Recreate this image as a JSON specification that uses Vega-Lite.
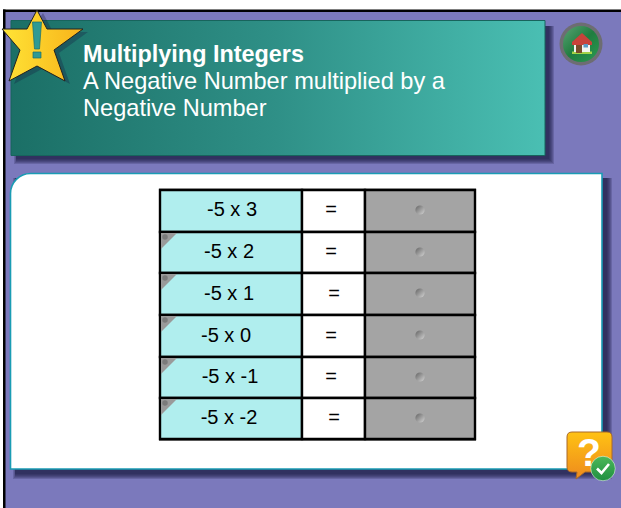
{
"$schema":"https://vega.github.io/schema/vega-lite/v6.json",
"width":621,"height":508,"autosize":{"type":"fit","contains":"padding"},"padding":0,
"background":"#ffffff","config":{"view":{"stroke":null}},
"datasets":{
"frame":[{"x":4,"x2":621,"y":11,"y2":508}],
"borderTop":[{"x":3,"x2":621,"y":9.5,"y2":12}],
"borderLeft":[{"x":3,"x2":5.5,"y":9.5,"y2":508}],
"bannerShadow":[{"x":14,"x2":554,"y":26,"y2":164},{"x":15,"x2":553,"y":26,"y2":163},{"x":16,"x2":552,"y":26,"y2":162},{"x":16,"x2":551,"y":26,"y2":161},{"x":16,"x2":550,"y":26,"y2":160},{"x":16,"x2":549,"y":26,"y2":159}],
"banner":[{"x":11,"x2":545,"y":20.5,"y2":155.5}],
"panelShadow":[{"x":13,"x2":612,"y":178,"y2":479},{"x":14,"x2":611,"y":178,"y2":478},{"x":15,"x2":610,"y":178,"y2":477},{"x":15,"x2":609,"y":178,"y2":476},{"x":15,"x2":608,"y":178,"y2":475},{"x":15,"x2":607,"y":178,"y2":474}],
"panel":[{"x":10.5,"x2":602,"y":173.5,"y2":469}],
"tableEdge":[{"x":159,"x2":476,"y":188.5,"y2":441}],
"cellsA":[{"row":1,"x":160,"x2":302,"y":190,"y2":232},{"row":2,"x":160,"x2":302,"y":232,"y2":273},{"row":3,"x":160,"x2":302,"y":273,"y2":315},{"row":4,"x":160,"x2":302,"y":315,"y2":357},{"row":5,"x":160,"x2":302,"y":357,"y2":398},{"row":6,"x":160,"x2":302,"y":398,"y2":439}],
"cellsB":[{"row":1,"x":302,"x2":365,"y":190,"y2":232},{"row":2,"x":302,"x2":365,"y":232,"y2":273},{"row":3,"x":302,"x2":365,"y":273,"y2":315},{"row":4,"x":302,"x2":365,"y":315,"y2":357},{"row":5,"x":302,"x2":365,"y":357,"y2":398},{"row":6,"x":302,"x2":365,"y":398,"y2":439}],
"cellsC":[{"row":1,"x":365,"x2":475,"y":190,"y2":232},{"row":2,"x":365,"x2":475,"y":232,"y2":273},{"row":3,"x":365,"x2":475,"y":273,"y2":315},{"row":4,"x":365,"x2":475,"y":315,"y2":357},{"row":5,"x":365,"x2":475,"y":357,"y2":398},{"row":6,"x":365,"x2":475,"y":398,"y2":439}],
"corners":[{"x":161,"y":233},{"x":161,"y":274},{"x":161,"y":316},{"x":161,"y":358},{"x":161,"y":399}],
"cornerDots":[{"x":165,"y":237},{"x":165,"y":278},{"x":165,"y":320},{"x":165,"y":362},{"x":165,"y":403}],
"dots":[{"x":420,"y":210},{"x":420,"y":252},{"x":420,"y":293},{"x":420,"y":335},{"x":420,"y":377},{"x":420,"y":418}],
"exprs":[{"label":"-5 x 3","x":232,"y":216},{"label":"-5 x 2","x":229,"y":258},{"label":"-5 x 1","x":229,"y":300},{"label":"-5 x 0","x":226,"y":342},{"label":"-5 x -1","x":230,"y":383},{"label":"-5 x -2","x":229,"y":424}],
"equals":[{"label":"=","x":331,"y":216},{"label":"=","x":331,"y":258},{"label":"=","x":334,"y":300},{"label":"=","x":331,"y":342},{"label":"=","x":331,"y":383},{"label":"=","x":334,"y":424}],
"title":[{"label":"Multiplying Integers","x":83,"y":62}],
"subtitle":[{"label":"A Negative Number multiplied by a","x":83,"y":89},{"label":"Negative Number","x":83,"y":116}],
"anchor":[{"x":0,"y":0}],
"homeOuter":[{"x":581,"y":44}],
"bubbleQ":[{"label":"?","x":589,"y":466}],
"check":[{"x":603,"y":468.5}]
},
"encoding":{
"x":{"field":"x","type":"quantitative","scale":{"domain":[0,621],"nice":false,"zero":false},"axis":null},
"y":{"field":"y","type":"quantitative","scale":{"domain":[0,508],"nice":false,"zero":false,"reverse":true},"axis":null}
},
"layer":[
{"data":{"name":"frame"},"mark":{"type":"rect","fill":"#7b79bc"},"encoding":{"x2":{"field":"x2"},"y2":{"field":"y2"}}},
{"data":{"name":"borderTop"},"mark":{"type":"rect","fill":"#000000"},"encoding":{"x2":{"field":"x2"},"y2":{"field":"y2"}}},
{"data":{"name":"borderLeft"},"mark":{"type":"rect","fill":"#000000"},"encoding":{"x2":{"field":"x2"},"y2":{"field":"y2"}}},
{"data":{"name":"bannerShadow"},"mark":{"type":"rect","fill":"#17173f","opacity":0.2},"encoding":{"x2":{"field":"x2"},"y2":{"field":"y2"}}},
{"data":{"name":"banner"},"mark":{"type":"rect","stroke":"#17645c","strokeWidth":1,"fill":{"gradient":"linear","x1":0,"y1":0.5,"x2":1,"y2":0.5,"stops":[{"offset":0,"color":"#1b6f66"},{"offset":0.5,"color":"#2f9087"},{"offset":1,"color":"#4abfb3"}]}},"encoding":{"x2":{"field":"x2"},"y2":{"field":"y2"}}},
{"data":{"name":"anchor"},"mark":{"type":"point","filled":true,"opacity":0.3,"size":4,"fill":"#17173f","shape":"M43 13 L53 32 L88 32 L59 53 L70 84 L42 69 L14 84 L26 53 L7 32 L30 32 Z"}},
{"data":{"name":"anchor"},"mark":{"type":"point","filled":true,"opacity":1,"size":4,"stroke":"#222222","strokeWidth":1,"fill":{"gradient":"linear","x1":0,"y1":0.5,"x2":1,"y2":0.5,"stops":[{"offset":0,"color":"#ffe436"},{"offset":1,"color":"#f8b31a"}]},"shape":"M37 10 L47 29 L83 29 L54 50 L65 81 L37 66 L9 81 L20 50 L2 29 L27 29 Z"}},
{"data":{"name":"anchor"},"mark":{"type":"point","filled":true,"opacity":1,"size":4,"stroke":"#1d6e6a","strokeWidth":0.7,"fill":"#2f9a94","shape":"M32.5 22 L41.5 22 L39.5 49 L34.5 49 Z M33 52 L41 52 L41 58 L33 58 Z"}},
{"data":{"name":"title"},"mark":{"type":"text","align":"left","baseline":"alphabetic","font":"Liberation Sans","fontWeight":"bold","fontSize":23.4,"fill":"#ffffff"},"encoding":{"text":{"field":"label"}}},
{"data":{"name":"subtitle"},"mark":{"type":"text","align":"left","baseline":"alphabetic","font":"Liberation Sans","fontSize":23.6,"fill":"#ffffff"},"encoding":{"text":{"field":"label"}}},
{"data":{"name":"homeOuter"},"mark":{"type":"point","filled":true,"opacity":1,"shape":"circle","size":1849,"fill":"#6d6d72"}},
{"data":{"name":"homeOuter"},"mark":{"type":"point","filled":true,"opacity":1,"shape":"circle","size":1296,"fill":{"gradient":"linear","x1":0,"y1":0,"x2":1,"y2":1,"stops":[{"offset":0,"color":"#5aa274"},{"offset":0.5,"color":"#1f7d3f"},{"offset":1,"color":"#2b9a52"}]}}},
{"data":{"name":"anchor"},"mark":{"type":"point","filled":true,"opacity":1,"size":4,"fill":"#a4d248","shape":"M572 51.5 L592 51.5 L592 54 L572 54 Z"}},
{"data":{"name":"anchor"},"mark":{"type":"point","filled":true,"opacity":1,"size":4,"fill":"#f4f4f0","shape":"M574 42 L590 42 L590 52 L574 52 Z"}},
{"data":{"name":"anchor"},"mark":{"type":"point","filled":true,"opacity":1,"size":4,"fill":"#c8423a","shape":"M582 33 L592 42 L592 45 L572 45 L572 42 Z"}},
{"data":{"name":"anchor"},"mark":{"type":"point","filled":true,"opacity":1,"size":4,"fill":"#7a4c2c","shape":"M576 45 L582 45 L582 53 L576 53 Z"}},
{"data":{"name":"anchor"},"mark":{"type":"point","filled":true,"opacity":1,"size":4,"fill":"#5a9bc4","shape":"M583.5 44 L588 44 L588 47.5 L583.5 47.5 Z"}},
{"data":{"name":"panelShadow"},"mark":{"type":"rect","fill":"#17173f","opacity":0.2},"encoding":{"x2":{"field":"x2"},"y2":{"field":"y2"}}},
{"data":{"name":"panel"},"mark":{"type":"rect","fill":"#ffffff","stroke":"#1a9cb4","strokeWidth":1.6,"cornerRadiusTopLeft":20},"encoding":{"x2":{"field":"x2"},"y2":{"field":"y2"}}},
{"data":{"name":"tableEdge"},"mark":{"type":"rect","fill":"#777777"},"encoding":{"x2":{"field":"x2"},"y2":{"field":"y2"}}},
{"data":{"name":"cellsA"},"mark":{"type":"rect","fill":"#b0eeee","stroke":"#000000","strokeWidth":2.4},"encoding":{"x2":{"field":"x2"},"y2":{"field":"y2"}}},
{"data":{"name":"cellsB"},"mark":{"type":"rect","fill":"#ffffff","stroke":"#000000","strokeWidth":2.4},"encoding":{"x2":{"field":"x2"},"y2":{"field":"y2"}}},
{"data":{"name":"cellsC"},"mark":{"type":"rect","fill":"#a4a4a4","stroke":"#000000","strokeWidth":2.4},"encoding":{"x2":{"field":"x2"},"y2":{"field":"y2"}}},
{"data":{"name":"corners"},"mark":{"type":"point","filled":true,"opacity":1,"size":4,"fill":"#9a9a9a","shape":"M0 0 L16 0 L0 16 Z"}},
{"data":{"name":"cornerDots"},"mark":{"type":"point","filled":true,"opacity":1,"size":30,"shape":"circle","fill":"#7a7a7a"}},
{"data":{"name":"dots"},"mark":{"type":"point","filled":true,"opacity":1,"size":85,"shape":"circle","fill":{"gradient":"linear","x1":0,"y1":0,"x2":1,"y2":1,"stops":[{"offset":0,"color":"#626262"},{"offset":1,"color":"#d4d4d4"}]}}},
{"data":{"name":"exprs"},"mark":{"type":"text","align":"center","baseline":"alphabetic","font":"Liberation Sans","fontSize":20,"fill":"#000000"},"encoding":{"text":{"field":"label"}}},
{"data":{"name":"equals"},"mark":{"type":"text","align":"center","baseline":"alphabetic","font":"Liberation Sans","fontSize":20,"fill":"#000000"},"encoding":{"text":{"field":"label"}}},
{"data":{"name":"anchor"},"mark":{"type":"point","filled":true,"opacity":1,"size":4,"stroke":"#a8692a","strokeWidth":1,"fill":{"gradient":"linear","x1":0.5,"y1":0,"x2":0.5,"y2":1,"stops":[{"offset":0,"color":"#ffc213"},{"offset":1,"color":"#ee8a1e"}]},"shape":"M572 432 L607 432 Q612 432 612 437 L612 467 Q612 472 607 472 L585 472 L576 479 L577 472 L572 472 Q567 472 567 467 L567 437 Q567 432 572 432 Z"}},
{"data":{"name":"bubbleQ"},"mark":{"type":"text","align":"center","baseline":"alphabetic","font":"Liberation Sans","fontWeight":"bold","fontSize":39,"fill":"#ffffff"},"encoding":{"text":{"field":"label"}}},
{"data":{"name":"check"},"mark":{"type":"point","filled":true,"opacity":1,"shape":"circle","size":600,"stroke":"#ffffff","strokeWidth":0.5,"fill":{"gradient":"linear","x1":0.5,"y1":0,"x2":0.5,"y2":1,"stops":[{"offset":0,"color":"#4cb85a"},{"offset":1,"color":"#1f8f40"}]}}},
{"data":{"name":"anchor"},"mark":{"type":"point","filled":false,"opacity":1,"size":4,"stroke":"#ffffff","strokeWidth":2.6,"shape":"M597 468.5 L601.5 473 L609 464"}}
]
}
